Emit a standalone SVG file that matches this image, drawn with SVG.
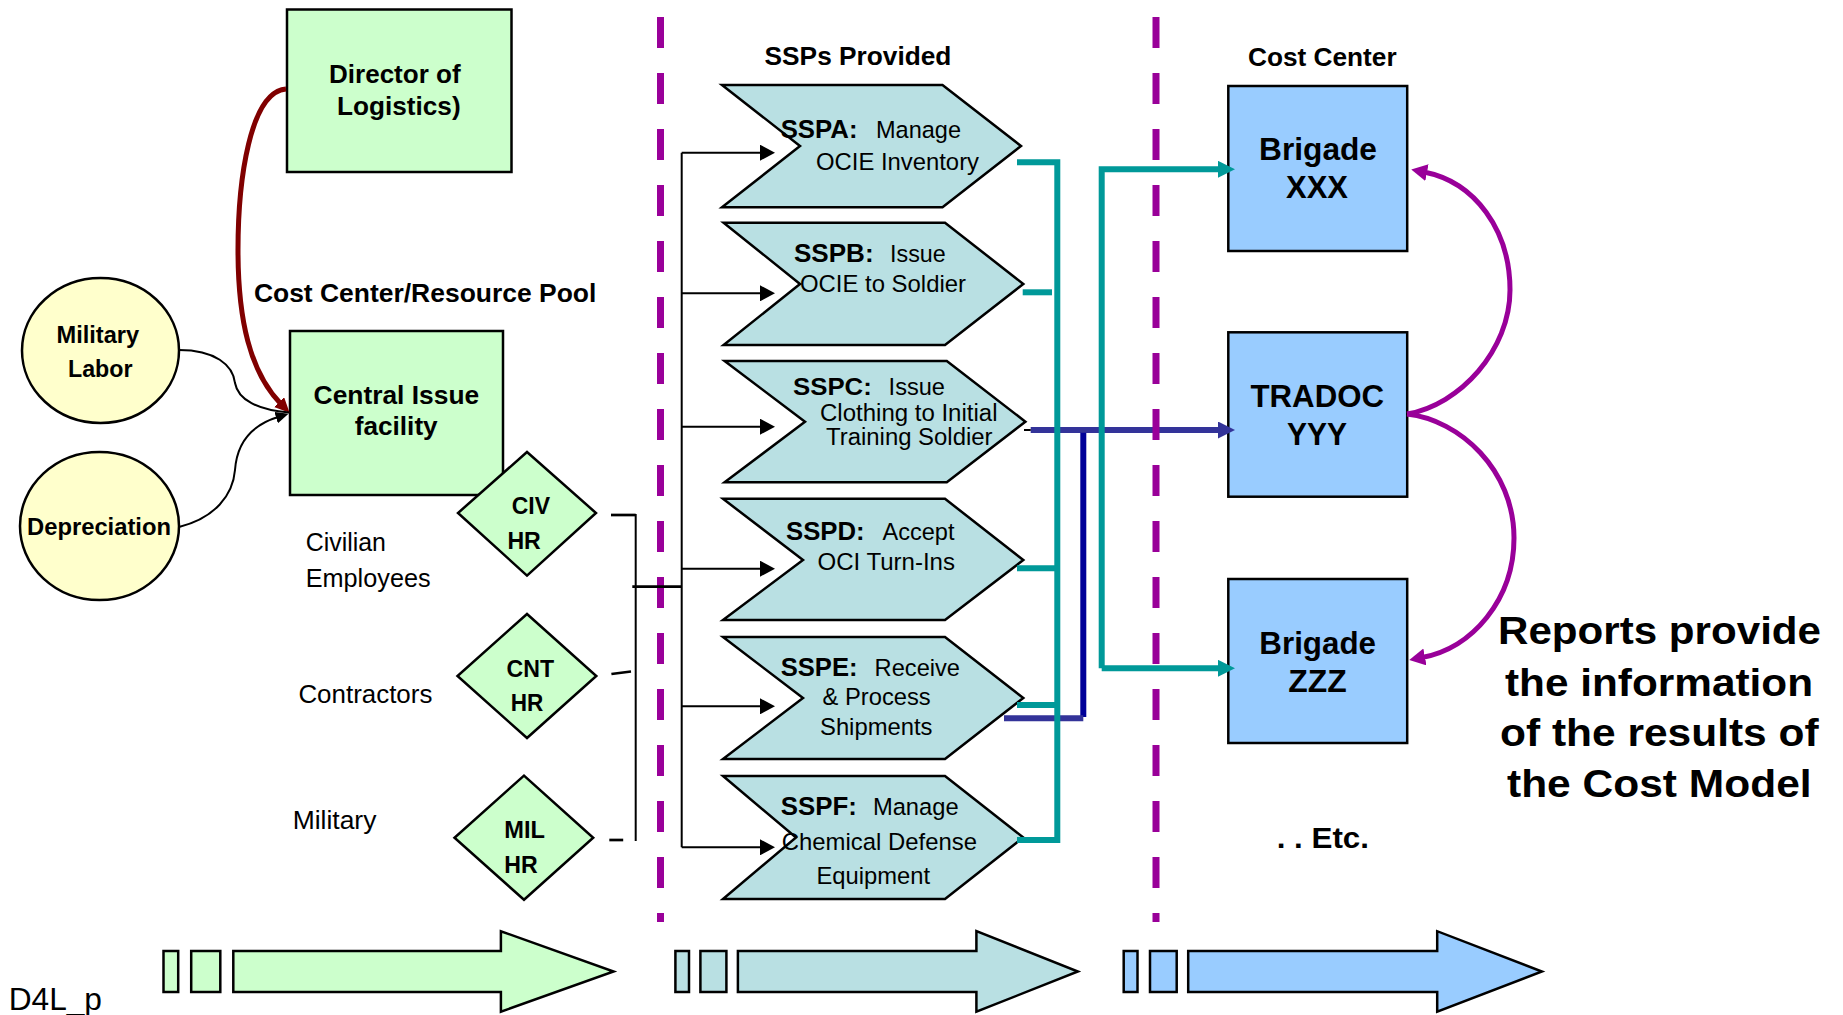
<svg xmlns="http://www.w3.org/2000/svg" width="1843" height="1015" viewBox="0 0 1843 1015">
  <defs>
    <style>
      .b { font-family: 'Liberation Sans', Arial, sans-serif; font-weight: bold; fill: #000; }
      .r { font-family: 'Liberation Sans', Arial, sans-serif; font-weight: normal; fill: #000; }
      .green { fill: #CCFFCC; stroke: #000; stroke-width: 2.5; }
      .yellow { fill: #FFFFCC; stroke: #000; stroke-width: 2.5; }
      .cyan { fill: #B9E0E3; stroke: #000; stroke-width: 2.5; stroke-linejoin: miter; }
      .blue { fill: #99CCFF; stroke: #000; stroke-width: 2.5; }
      .divider { stroke: #990099; stroke-width: 7; stroke-dasharray: 31 25; fill: none; }
      .thin { stroke: #000; stroke-width: 2; fill: none; }
      .tick { stroke: #000; stroke-width: 2.7; fill: none; }
      .teal { stroke: #009999; stroke-width: 6; fill: none; }
      .navy { stroke: #333399; stroke-width: 6; fill: none; }
      .darknavy { stroke: #000099; stroke-width: 6; fill: none; }
      .report { stroke: #990099; stroke-width: 5; fill: none; }
      .feed { stroke: #800000; stroke-width: 5; fill: none; }
    </style>
    <marker id="ahBlack" markerUnits="userSpaceOnUse" markerWidth="16" markerHeight="16" refX="2" refY="8" orient="auto">
      <path d="M0,0 L15,8 L0,16 z" fill="#000"/>
    </marker>
    <marker id="ahBlackSmall" markerUnits="userSpaceOnUse" markerWidth="14" markerHeight="12" refX="2" refY="6" orient="auto">
      <path d="M0,0 L13,6 L0,12 z" fill="#000"/>
    </marker>
    <marker id="ahRed" markerUnits="userSpaceOnUse" markerWidth="16" markerHeight="16" refX="2" refY="7" orient="auto">
      <path d="M0,0 L15,7 L0,14 z" fill="#800000"/>
    </marker>
    <marker id="ahTeal" markerUnits="userSpaceOnUse" markerWidth="18" markerHeight="18" refX="4" refY="8.5" orient="auto">
      <path d="M0,0 L17,8.5 L0,17 z" fill="#009999"/>
    </marker>
    <marker id="ahNavy" markerUnits="userSpaceOnUse" markerWidth="18" markerHeight="18" refX="4" refY="8.5" orient="auto">
      <path d="M0,0 L17,8.5 L0,17 z" fill="#333399"/>
    </marker>
    <marker id="ahPurple" markerUnits="userSpaceOnUse" markerWidth="18" markerHeight="18" refX="3" refY="8.5" orient="auto">
      <path d="M0,0 L16,8.5 L0,17 z" fill="#990099"/>
    </marker>
  </defs>

  <rect x="0" y="0" width="1843" height="1015" fill="#fff"/>

  <!-- column headings -->
  <g id="headings">
    <text class="b" x="253.9" y="301.7" font-size="25.5" textLength="342.4" lengthAdjust="spacingAndGlyphs">Cost Center/Resource Pool</text>
    <text class="b" x="764.6" y="65" font-size="26" textLength="186.8" lengthAdjust="spacingAndGlyphs">SSPs Provided</text>
    <text class="b" x="1248" y="66" font-size="26" textLength="148.6" lengthAdjust="spacingAndGlyphs">Cost Center</text>
  </g>

  <!-- resource side -->
  <g id="director">
    <rect class="green" x="287" y="9.5" width="224.5" height="162.5"/>
    <text class="b" x="329" y="83.3" font-size="25.5" textLength="131.6" lengthAdjust="spacingAndGlyphs">Director of</text>
    <text class="b" x="337" y="115" font-size="25.5" textLength="123.6" lengthAdjust="spacingAndGlyphs">Logistics)</text>
  </g>

  <g id="military-labor">
    <ellipse class="yellow" cx="100.5" cy="350.5" rx="78.5" ry="72.5"/>
    <text class="b" x="56.5" y="343.3" font-size="23.5" textLength="82.7" lengthAdjust="spacingAndGlyphs">Military</text>
    <text class="b" x="68" y="376.7" font-size="23.5" textLength="64.5" lengthAdjust="spacingAndGlyphs">Labor</text>
  </g>

  <g id="depreciation">
    <ellipse class="yellow" cx="99.5" cy="526" rx="79.5" ry="74"/>
    <text class="b" x="27" y="534.6" font-size="24" textLength="144" lengthAdjust="spacingAndGlyphs">Depreciation</text>
  </g>

  <g id="central-issue">
    <rect class="green" x="290" y="331" width="213" height="164"/>
    <text class="b" x="313.6" y="404" font-size="26.5" textLength="165.6" lengthAdjust="spacingAndGlyphs">Central Issue</text>
    <text class="b" x="354.7" y="435" font-size="26.5" textLength="83" lengthAdjust="spacingAndGlyphs">facility</text>
  </g>

  <g id="civ-hr">
    <polygon class="green" points="527,452 596,513 527,575.6 458,513"/>
    <text class="b" x="511.7" y="514" font-size="23.5" textLength="38.3" lengthAdjust="spacingAndGlyphs">CIV</text>
    <text class="b" x="507.4" y="549" font-size="23.5" textLength="33.4" lengthAdjust="spacingAndGlyphs">HR</text>
  </g>
  <g id="cnt-hr">
    <polygon class="green" points="527,614 596.3,676 527,738 457.5,676"/>
    <text class="b" x="506.5" y="677" font-size="23.5" textLength="47.5" lengthAdjust="spacingAndGlyphs">CNT</text>
    <text class="b" x="510.8" y="711" font-size="23.5" textLength="32.6" lengthAdjust="spacingAndGlyphs">HR</text>
  </g>
  <g id="mil-hr">
    <polygon class="green" points="524,775.6 593.2,837.7 524,899.8 454.5,837.7"/>
    <text class="b" x="504.3" y="837.7" font-size="23.5" textLength="40.7" lengthAdjust="spacingAndGlyphs">MIL</text>
    <text class="b" x="504.3" y="872.5" font-size="23.5" textLength="33.4" lengthAdjust="spacingAndGlyphs">HR</text>
  </g>

  <g id="labor-labels">
    <text class="r" x="305.7" y="550.6" font-size="25" textLength="80.3" lengthAdjust="spacingAndGlyphs">Civilian</text>
    <text class="r" x="305.7" y="586.8" font-size="25" textLength="124.9" lengthAdjust="spacingAndGlyphs">Employees</text>
    <text class="r" x="298.4" y="703" font-size="26" textLength="134" lengthAdjust="spacingAndGlyphs">Contractors</text>
    <text class="r" x="292.7" y="828.8" font-size="26" textLength="83.7" lengthAdjust="spacingAndGlyphs">Military</text>
  </g>

  <!-- shared support processes -->
  <g id="sspa">
    <polygon class="cyan" points="722,85 942.5,85 1021,146 942.5,207.3 722,207.3 800,146"/>
    <text class="b" x="780.7" y="138.3" font-size="25.5" textLength="76.8" lengthAdjust="spacingAndGlyphs">SSPA:</text>
    <text class="r" x="876" y="138.3" font-size="24.5" textLength="85" lengthAdjust="spacingAndGlyphs">Manage</text>
    <text class="r" x="816" y="170" font-size="24.5" textLength="163" lengthAdjust="spacingAndGlyphs">OCIE Inventory</text>
  </g>
  <g id="sspb">
    <polygon class="cyan" points="723.6,222.7 945,222.7 1023.3,284 945,345 723.6,345 800,284"/>
    <text class="b" x="794" y="261.7" font-size="25.5" textLength="79.6" lengthAdjust="spacingAndGlyphs">SSPB:</text>
    <text class="r" x="890" y="261.7" font-size="24.5" textLength="55.7" lengthAdjust="spacingAndGlyphs">Issue</text>
    <text class="r" x="800" y="291.7" font-size="24.5" textLength="166" lengthAdjust="spacingAndGlyphs">OCIE to Soldier</text>
  </g>
  <g id="sspc">
    <polygon class="cyan" points="724.6,361 946.8,361 1025.4,421.7 946.8,482.3 724.6,482.3 805,421.7"/>
    <text class="b" x="793" y="395" font-size="24" textLength="78.8" lengthAdjust="spacingAndGlyphs">SSPC:</text>
    <text class="r" x="888.6" y="395" font-size="23.3" textLength="56.4" lengthAdjust="spacingAndGlyphs">Issue</text>
    <text class="r" x="820" y="420.7" font-size="23.3" textLength="177.5" lengthAdjust="spacingAndGlyphs">Clothing to Initial</text>
    <text class="r" x="826" y="445" font-size="23.3" textLength="166.5" lengthAdjust="spacingAndGlyphs">Training Soldier</text>
  </g>
  <g id="sspd">
    <polygon class="cyan" points="723,498.8 945,498.8 1023.3,560 945,620 723,620 803,560"/>
    <text class="b" x="786" y="539.7" font-size="25.5" textLength="78.6" lengthAdjust="spacingAndGlyphs">SSPD:</text>
    <text class="r" x="882.5" y="539.7" font-size="24.5" textLength="72" lengthAdjust="spacingAndGlyphs">Accept</text>
    <text class="r" x="817.5" y="570.4" font-size="24.5" textLength="137.5" lengthAdjust="spacingAndGlyphs">OCI Turn-Ins</text>
  </g>
  <g id="sspe">
    <polygon class="cyan" points="723,637 945,637 1023.3,698 945,759 723,759 803,698"/>
    <text class="b" x="780.7" y="676.2" font-size="25.5" textLength="76.8" lengthAdjust="spacingAndGlyphs">SSPE:</text>
    <text class="r" x="874.6" y="676.2" font-size="24.5" textLength="85.4" lengthAdjust="spacingAndGlyphs">Receive</text>
    <text class="r" x="822.5" y="705.3" font-size="24.5" textLength="108.2" lengthAdjust="spacingAndGlyphs">&amp; Process</text>
    <text class="r" x="820" y="735.3" font-size="24.5" textLength="112.5" lengthAdjust="spacingAndGlyphs">Shipments</text>
  </g>
  <g id="sspf">
    <polygon class="cyan" points="723,776 945,776 1023.3,837.5 945,899 723,899 796,837.5"/>
    <text class="b" x="780.7" y="815" font-size="25.5" textLength="76.1" lengthAdjust="spacingAndGlyphs">SSPF:</text>
    <text class="r" x="872.9" y="815" font-size="24.5" textLength="85.7" lengthAdjust="spacingAndGlyphs">Manage</text>
    <text class="r" x="781.8" y="849.6" font-size="24.5" textLength="195.2" lengthAdjust="spacingAndGlyphs">Chemical Defense</text>
    <text class="r" x="816.4" y="883.8" font-size="24.5" textLength="113.6" lengthAdjust="spacingAndGlyphs">Equipment</text>
  </g>

  <!-- cost centers -->
  <g id="brigade-xxx">
    <rect class="blue" x="1228.3" y="86" width="178.9" height="165"/>
    <text class="b" x="1259" y="160" font-size="30.5" textLength="118" lengthAdjust="spacingAndGlyphs">Brigade</text>
    <text class="b" x="1286" y="198.3" font-size="30.5" textLength="62" lengthAdjust="spacingAndGlyphs">XXX</text>
  </g>
  <g id="tradoc-yyy">
    <rect class="blue" x="1228.3" y="332.3" width="178.9" height="164.4"/>
    <text class="b" x="1250.5" y="406.7" font-size="30.5" textLength="133.5" lengthAdjust="spacingAndGlyphs">TRADOC</text>
    <text class="b" x="1287" y="445" font-size="30.5" textLength="60" lengthAdjust="spacingAndGlyphs">YYY</text>
  </g>
  <g id="brigade-zzz">
    <rect class="blue" x="1228.3" y="579" width="178.9" height="164"/>
    <text class="b" x="1259.3" y="653.5" font-size="30.5" textLength="116.7" lengthAdjust="spacingAndGlyphs">Brigade</text>
    <text class="b" x="1288.3" y="691.7" font-size="30.5" textLength="58.4" lengthAdjust="spacingAndGlyphs">ZZZ</text>
  </g>

  <g id="notes">
    <text class="b" x="1276.7" y="848" font-size="30" textLength="92.3" lengthAdjust="spacingAndGlyphs">. . Etc.</text>
    <text class="b" x="1498" y="643.8" font-size="39" textLength="323" lengthAdjust="spacingAndGlyphs">Reports provide</text>
    <text class="b" x="1505" y="696" font-size="39" textLength="308" lengthAdjust="spacingAndGlyphs">the information</text>
    <text class="b" x="1500" y="746" font-size="39" textLength="318.6" lengthAdjust="spacingAndGlyphs">of the results of</text>
    <text class="b" x="1507" y="797.4" font-size="39" textLength="304.6" lengthAdjust="spacingAndGlyphs">the Cost Model</text>
    <text class="r" x="8.7" y="1009.5" font-size="31" textLength="93.3" lengthAdjust="spacingAndGlyphs">D4L_p</text>
  </g>

  <!-- flow arrows along the bottom -->
  <g id="flow-resources">
    <rect class="green" x="163.5" y="951" width="14.7" height="41"/>
    <rect class="green" x="191.2" y="951" width="29.1" height="41"/>
    <path class="green" d="M233.3,951 H500.9 V931.2 L613.6,971.5 L500.9,1011.7 V992 H233.3 Z"/>
  </g>
  <g id="flow-processes">
    <rect class="cyan" x="675.4" y="951" width="13.6" height="41"/>
    <rect class="cyan" x="700.4" y="951" width="26" height="41"/>
    <path class="cyan" d="M737.9,951 H976.4 V931.2 L1077.9,971.5 L976.4,1011.7 V992 H737.9 Z"/>
  </g>
  <g id="flow-costcenters">
    <rect class="blue" x="1123.7" y="951" width="13.8" height="41"/>
    <rect class="blue" x="1150" y="951" width="26.7" height="41"/>
    <path class="blue" d="M1188.2,951 H1437.2 V931.2 L1541.9,971.5 L1437.2,1011.7 V992 H1188.2 Z"/>
  </g>

  <!-- connectors -->
  <g id="connectors">
    <!-- inputs to the resource pool -->
    <path class="feed" d="M286,89 C250,92 238,180 238,250 C238,320 250,372 280.5,403.5" marker-end="url(#ahRed)"/>
    <path class="thin" d="M179,350 C215,350 233,365 235,383 C238,400 258,410 289,412.5"/>
    <path class="thin" d="M179,527 C215,518 233,495 235,470 C237,442 252,425 278,417" marker-end="url(#ahBlackSmall)"/>

    <!-- labor pools bracket -->
    <line class="tick" x1="611" y1="515" x2="635.7" y2="515"/>
    <line class="tick" x1="611.4" y1="674" x2="631" y2="671.5"/>
    <line class="tick" x1="609.3" y1="840" x2="623.2" y2="840"/>
    <line class="thin" x1="635.7" y1="514" x2="635.7" y2="841"/>

    <!-- SSP outputs to cost centers -->
    <line class="navy" x1="1030.7" y1="430" x2="1222" y2="430" marker-end="url(#ahNavy)"/>
    <line class="thin" x1="1024" y1="430" x2="1030.7" y2="430"/>
    <line class="darknavy" x1="1083.3" y1="432.7" x2="1083.3" y2="717"/>
    <line class="navy" x1="1004" y1="718.3" x2="1083.3" y2="718.3"/>

    <path class="teal" d="M1017,162.3 H1057.3 V840 H1017"/>
    <line class="teal" x1="1022.7" y1="292.3" x2="1052" y2="292.3"/>
    <line class="teal" x1="1017" y1="568.3" x2="1057.3" y2="568.3"/>
    <line class="teal" x1="1017" y1="705" x2="1057.3" y2="705"/>
    <path class="teal" d="M1101.7,668.3 V169.3 H1222" marker-end="url(#ahTeal)"/>
    <line class="teal" x1="1101.7" y1="668.3" x2="1222" y2="668.3" marker-end="url(#ahTeal)"/>

    <!-- report feedback -->
    <path class="report" d="M1407,414 C1460,405 1510,350 1510,290 C1510,230 1475,182 1424,172" marker-end="url(#ahPurple)"/>
    <path class="report" d="M1407,414 C1460,420 1514,470 1514,538 C1514,600 1472,648 1422,657.5" marker-end="url(#ahPurple)"/>
  </g>

  <!-- stage dividers -->
  <g id="dividers">
    <line class="divider" x1="660.5" y1="17" x2="660.5" y2="922"/>
    <line class="divider" x1="1156" y1="17" x2="1156" y2="922"/>
  </g>

  <!-- distribution from labor pools into the SSPs -->
  <g id="distribution">
    <line class="tick" x1="632.3" y1="586.7" x2="681.7" y2="586.7"/>
    <line class="thin" x1="681.7" y1="152.7" x2="681.7" y2="847.3"/>
    <line class="thin" x1="681.7" y1="152.7" x2="762" y2="152.7" marker-end="url(#ahBlack)"/>
    <line class="thin" x1="681.7" y1="293.3" x2="762" y2="293.3" marker-end="url(#ahBlack)"/>
    <line class="thin" x1="681.7" y1="426.7" x2="762" y2="426.7" marker-end="url(#ahBlack)"/>
    <line class="thin" x1="681.7" y1="568.7" x2="762" y2="568.7" marker-end="url(#ahBlack)"/>
    <line class="thin" x1="681.7" y1="706.3" x2="762" y2="706.3" marker-end="url(#ahBlack)"/>
    <line class="thin" x1="681.7" y1="847.3" x2="762" y2="847.3" marker-end="url(#ahBlack)"/>
  </g>
</svg>
